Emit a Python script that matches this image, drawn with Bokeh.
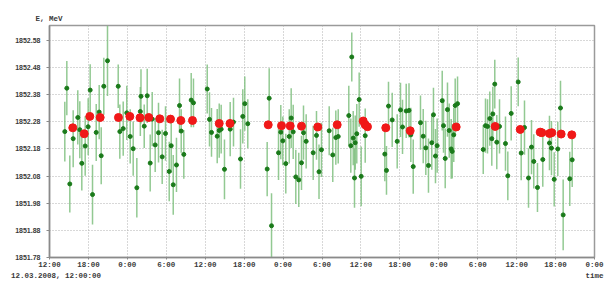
from bokeh.plotting import figure
from bokeh.models import ColumnDataSource, FixedTicker, Range1d, LinearAxis, PrintfTickFormatter
from bokeh.embed import file_html
from bokeh.resources import INLINE

# hours since 12.03.2008 12:00
x_ticks = [0, 6, 12, 18, 24, 30, 36, 42, 48, 54, 60, 66, 72, 78, 84]
x_tick_labels = ["12:00", "18:00", "0:00", "6:00", "12:00", "18:00", "0:00", "6:00",
                 "12:00", "18:00", "0:00", "6:00", "12:00", "18:00", "0:00"]
y_ticks = [1851.78, 1851.88, 1851.98, 1852.08, 1852.18, 1852.28, 1852.38, 1852.48, 1852.58]
start_label = "12.03.2008, 12:00:00"
x_title = "time"
y_title = "E, MeV"

g_t = [2.36, 2.67, 3.13, 3.65, 4.36, 4.67, 4.98, 5.50, 5.96, 6.27, 6.63, 7.20, 7.66, 7.97, 8.37, 8.94, 10.59, 10.84, 11.36, 11.91, 12.44, 12.90, 13.46, 14.0, 14.10,
       14.60, 15.06, 15.52, 15.83, 16.29, 16.80, 17.37, 17.88, 18.45, 18.76, 19.07, 19.57, 20.04, 20.30, 20.70, 21.84, 22.19, 24.31, 24.66, 24.97, 25.85, 26.16, 26.46, 26.97, 27.85,
       28.36, 29.44, 29.79, 30.10, 30.56, 33.55, 33.86, 34.22, 35.30, 35.65, 35.96, 36.42, 36.95, 37.25, 37.56, 37.96, 38.42, 38.84, 39.15, 39.56, 40.64, 41.15, 41.54, 41.92,
       43.11, 43.66, 44.13, 44.50, 46.13, 46.44, 46.59, 46.81, 47.01, 47.12, 47.36, 47.73, 48.04, 48.66, 51.68, 51.94, 52.25, 52.82, 53.59, 54.10, 54.41, 54.98, 55.41,
       55.69, 56.06, 57.18, 57.60, 58.00, 58.41, 58.92, 59.18, 59.49, 59.75, 60.53, 60.73, 60.99, 61.34, 61.61, 61.91, 62.07, 62.31, 62.53, 62.89, 66.85, 67.20, 67.51, 67.86, 68.17, 68.33, 68.63, 68.94, 69.36,
       70.28, 70.64, 71.16, 72.24, 72.70, 73.21, 73.83, 74.29, 74.64, 75.21, 76.03, 77.06, 77.37, 77.79, 78.34, 78.76, 79.17, 80.19, 80.56]

g_e = [1852.244, 1852.404, 1852.051, 1852.218, 1852.296, 1852.251, 1852.127, 1852.191, 1852.262, 1852.397, 1852.012, 1852.241, 1852.316, 1852.155, 1852.411, 1852.505, 1852.411, 1852.244, 1852.255, 1852.313, 1852.226, 1852.181, 1852.037, 1852.318, 1852.374,
       1852.264, 1852.376, 1852.128, 1852.290, 1852.195, 1852.240, 1852.151, 1852.237, 1852.097, 1852.192, 1852.048, 1852.121, 1852.340, 1852.246, 1852.160, 1852.360, 1852.350, 1852.401, 1852.289, 1852.241, 1852.227, 1852.248, 1852.253, 1852.105, 1852.253,
       1852.279, 1852.143, 1852.300, 1852.347, 1852.273, 1852.106, 1852.367, 1851.897, 1852.166, 1852.242, 1852.210, 1852.126, 1852.226, 1852.294, 1852.243, 1852.077, 1852.066, 1852.129, 1852.240, 1852.208, 1852.166, 1852.230, 1852.096, 1852.177,
       1852.247, 1852.158, 1852.222, 1852.226, 1852.303, 1852.192, 1852.519, 1852.220, 1852.073, 1852.203, 1852.236, 1852.362, 1852.079, 1852.229, 1852.161, 1852.101, 1852.338, 1852.287, 1852.208, 1852.324, 1852.261, 1852.320, 1852.322,
       1852.232, 1852.115, 1852.277, 1852.227, 1852.184, 1852.119, 1852.203, 1852.306, 1852.154, 1852.192, 1852.358, 1852.266, 1852.145, 1852.325, 1852.248, 1852.180, 1852.171, 1852.232, 1852.340, 1852.347, 1852.178, 1852.266, 1852.263, 1852.292, 1852.218, 1852.309, 1852.419, 1852.205, 1852.263,
       1852.200, 1852.081, 1852.311, 1852.427, 1852.165, 1852.259, 1852.073, 1852.187, 1852.134, 1852.038, 1852.141, 1852.202, 1852.183, 1852.068, 1852.180, 1852.331, 1851.937, 1852.070, 1852.140]

g_err = [0.11, 0.10, 0.105, 0.105, 0.10, 0.105, 0.10, 0.11, 0.105, 0.095, 0.11, 0.105, 0.10, 0.105, 0.105, 0.13, 0.08, 0.10, 0.10, 0.10, 0.10, 0.10, 0.11, 0.09, 0.10,
         0.08, 0.10, 0.105, 0.10, 0.10, 0.11, 0.10, 0.10, 0.11, 0.10, 0.11, 0.10, 0.10, 0.08, 0.09, 0.10, 0.09, 0.09, 0.10, 0.09, 0.10, 0.10, 0.09, 0.11, 0.10,
         0.09, 0.11, 0.10, 0.10, 0.09, 0.10, 0.11, 0.12, 0.10, 0.10, 0.09, 0.11, 0.10, 0.11, 0.10, 0.10, 0.10, 0.10, 0.10, 0.10, 0.10, 0.09, 0.10, 0.10,
         0.09, 0.10, 0.10, 0.10, 0.11, 0.10, 0.09, 0.10, 0.11, 0.10, 0.11, 0.10, 0.11, 0.10, 0.10, 0.09, 0.09, 0.10, 0.10, 0.10, 0.10, 0.10, 0.10,
         0.10, 0.10, 0.10, 0.10, 0.10, 0.10, 0.10, 0.10, 0.10, 0.10, 0.11, 0.10, 0.11, 0.10, 0.10, 0.11, 0.10, 0.10, 0.10, 0.10, 0.09, 0.10, 0.10, 0.10, 0.10, 0.10, 0.09, 0.10, 0.10,
         0.10, 0.09, 0.10, 0.09, 0.10, 0.10, 0.11, 0.10, 0.10, 0.09, 0.10, 0.10, 0.10, 0.10, 0.10, 0.10, 0.13, 0.10, 0.10]

r_t = [3.59, 5.35, 6.21, 7.81, 10.63, 12.38, 13.95, 15.30, 17.00, 18.65, 20.24, 22.04, 26.16, 27.82, 33.71, 35.76, 37.10,
       38.84, 41.35, 44.34, 48.35, 48.66, 49.01, 51.83, 55.59, 62.68, 68.69, 72.55, 75.63, 75.88, 77.06, 77.42, 78.86, 80.50]
r_e = [1852.258, 1852.236, 1852.300, 1852.296, 1852.296, 1852.300, 1852.295, 1852.296, 1852.291, 1852.290, 1852.285, 1852.285,
       1852.274, 1852.274, 1852.269, 1852.266, 1852.265, 1852.264, 1852.261, 1852.269, 1852.283, 1852.269, 1852.262, 1852.258,
       1852.247, 1852.261, 1852.263, 1852.252, 1852.242, 1852.240, 1852.237, 1852.240, 1852.235, 1852.232]

lo = [e - d for e, d in zip(g_e, g_err)]
hi = [e + d for e, d in zip(g_e, g_err)]
gsrc = ColumnDataSource(dict(t=g_t, e=g_e, lo=lo, hi=hi))
rsrc = ColumnDataSource(dict(t=r_t, e=r_e))

MONO = "Liberation Mono"
TXT = "#3a3a3a"

p = figure(width=604, height=282, output_backend="svg", toolbar_location=None,
           x_range=Range1d(0, 84), y_range=Range1d(1851.78, 1852.635),
           min_border_left=49, min_border_right=10, min_border_top=25, min_border_bottom=24)
p.background_fill_color = "white"
p.border_fill_color = "white"
p.outline_line_color = "#9a9a9a"
p.outline_line_width = 1.5

p.title.text = y_title
p.title.align = "left"
p.title.offset = -14
p.title.standoff = 6
p.title.text_font = MONO
p.title.text_font_size = "7.5px"
p.title.text_font_style = "bold"
p.title.text_color = TXT

p.segment(x0="t", y0="lo", x1="t", y1="hi", source=gsrc, line_color="#7fbf7f", line_width=1.5, line_alpha=0.85)
p.scatter(x="t", y="e", source=gsrc, size=4, fill_color="#1a7a1a", line_color="#1a7a1a")
p.scatter(x="t", y="e", source=rsrc, size=8, fill_color="#f01818", line_color="#f01818")

p.xaxis.ticker = FixedTicker(ticks=x_ticks)
p.xaxis.major_label_overrides = {t: s for t, s in zip(x_ticks, x_tick_labels)}
p.yaxis.ticker = FixedTicker(ticks=y_ticks)
p.yaxis.formatter = PrintfTickFormatter(format="%.2f")

for ax in (p.xaxis, p.yaxis):
    ax.axis_line_color = "#8a8a8a"
    ax.axis_line_width = 1.5
    ax.major_tick_line_color = "#8a8a8a"
    ax.major_tick_in = 0
    ax.minor_tick_line_color = None
    ax.major_label_text_color = TXT
    ax.major_label_text_font_style = "bold"
p.xaxis.major_tick_out = 2
p.yaxis.major_tick_out = 3
p.xaxis.major_label_standoff = 1
p.yaxis.major_label_standoff = 6
p.xaxis.major_label_text_font = MONO
p.xaxis.major_label_text_font_size = "7.5px"
p.yaxis.major_label_text_font = "Liberation Sans"
p.yaxis.major_label_text_font_size = "7px"

# second row under the time axis: start date on the left, axis name on the right
sub_ticks = [1, 84]
sub_axis = LinearAxis(ticker=FixedTicker(ticks=sub_ticks),
                      major_label_overrides={sub_ticks[0]: start_label, sub_ticks[1]: x_title})
sub_axis.axis_line_color = None
sub_axis.major_tick_line_color = None
sub_axis.minor_tick_line_color = None
sub_axis.major_tick_out = 0
sub_axis.major_tick_in = 0
sub_axis.major_label_standoff = 0
sub_axis.major_label_text_font = MONO
sub_axis.major_label_text_font_size = "7.5px"
sub_axis.major_label_text_font_style = "bold"
sub_axis.major_label_text_color = TXT
p.add_layout(sub_axis, "below")

p.grid.grid_line_color = "#b0b0b0"
p.grid.grid_line_dash = "1 2"
p.grid.grid_line_width = 1

open("out.html", "w").write(file_html(p, INLINE))
